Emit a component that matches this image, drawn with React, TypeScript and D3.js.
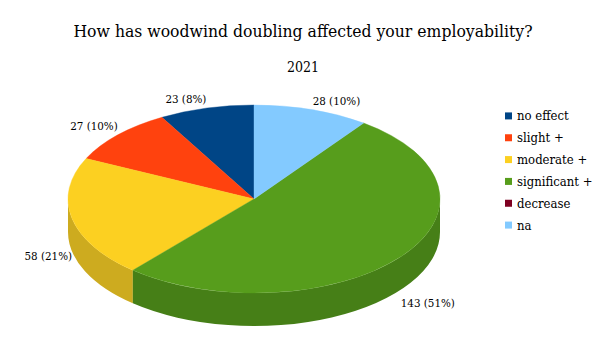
import React from "react";
import * as d3 from "d3";

const categories = ["no effect", "slight +", "moderate +", "significant +", "decrease", "na"];
const values = [23, 27, 58, 143, 0, 28];
const topColors = ["#004586", "#ff420e", "#fcd021", "#579d1c", "#7e0021", "#83caff"];
const sideColors = ["#00376b", "#cc350b", "#cdab1f", "#467f17", "#65001a", "#69a2cc"];
const titleText = "How has woodwind doubling affected your employability?";
const subtitleText = "2021";

const W = 605, H = 340;
const FONT = "'DejaVu Serif', serif";

export default function App() {
  const cx = 254, cy = 199, rx = 186, ry = 94, depth = 33;
  const total = d3.sum(values);
  const pie = d3.pie<number>().sort(null).startAngle(0).endAngle(2 * Math.PI);
  const arcs = pie(values);
  const pt = (t: number, dy = 0): [number, number] => [cx - rx * Math.sin(t), cy - ry * Math.cos(t) + dy];

  const topPath = (a0: number, a1: number) => {
    const p0 = pt(a0), p1 = pt(a1);
    const large = a1 - a0 > Math.PI ? 1 : 0;
    return `M${cx},${cy}L${p0[0]},${p0[1]}A${rx},${ry} 0 ${large} 0 ${p1[0]},${p1[1]}Z`;
  };
  const sidePath = (a0: number, a1: number) => {
    const s0 = Math.max(a0, Math.PI / 2), s1 = Math.min(a1, 1.5 * Math.PI);
    if (s1 <= s0) return null;
    const p0 = pt(s0), p1 = pt(s1), q1 = pt(s1, depth), q0 = pt(s0, depth);
    return `M${p0[0]},${p0[1]}A${rx},${ry} 0 0 0 ${p1[0]},${p1[1]}L${q1[0]},${q1[1]}A${rx},${ry} 0 0 1 ${q0[0]},${q0[1]}Z`;
  };

  const legendY = d3.scaleBand<string>().domain(categories).range([105, 236]);

  return (
    <svg width={W} height={H} style={{ position: "absolute", left: 0, top: 0 }} fontFamily={FONT}>
      <rect width={W} height={H} fill="#ffffff" />
      <text x={303} y={37} textAnchor="middle" fontSize={17.4} fill="#000" style={{ fontStretch: "condensed" }}>{titleText}</text>
      <text x={303} y={72} textAnchor="middle" fontSize={14} fill="#000" style={{ fontStretch: "condensed" }}>{subtitleText}</text>
      <g>
        {arcs.map((a, i) => {
          const d = sidePath(a.startAngle, a.endAngle);
          return d && a.value > 0 ? <path key={"s" + i} d={d} fill={sideColors[i]} /> : null;
        })}
        {arcs.map((a, i) => a.value > 0 ? (
          <path key={"t" + i} d={topPath(a.startAngle, a.endAngle)} fill={topColors[i]} stroke={topColors[i]} strokeWidth={0.4} />
        ) : null)}
      </g>
      <g fontSize={11.5} style={{ fontStretch: "condensed" }}>
        {arcs.map((a, i) => {
          if (a.value <= 0) return null;
          const m = (a.startAngle + a.endAngle) / 2;
          const [ex, ey] = pt(m);
          const left = Math.sin(m) > 0;
          const lower = Math.cos(m) < 0;
          const y = lower ? ey + depth + 4 + 20 * -Math.cos(m) : ey - 5;
          const x = left ? ex : ex + 1;
          const pct = Math.round((a.value / total) * 100);
          return (
            <text key={"l" + i} x={x} y={y} textAnchor={left ? "end" : "start"} fill="#000">
              {`${a.value} (${pct}%)`}
            </text>
          );
        })}
      </g>
      <g fontSize={13} style={{ fontStretch: "condensed" }}>
        {categories.map((c, i) => {
          const y = (legendY(c) as number) + legendY.bandwidth() / 2;
          return (
            <g key={c}>
              <rect x={505} y={y - 3.5} width={7} height={7} fill={topColors[i]} />
              <text x={517} y={y + 4.5} fill="#000">{c}</text>
            </g>
          );
        })}
      </g>
    </svg>
  );
}
